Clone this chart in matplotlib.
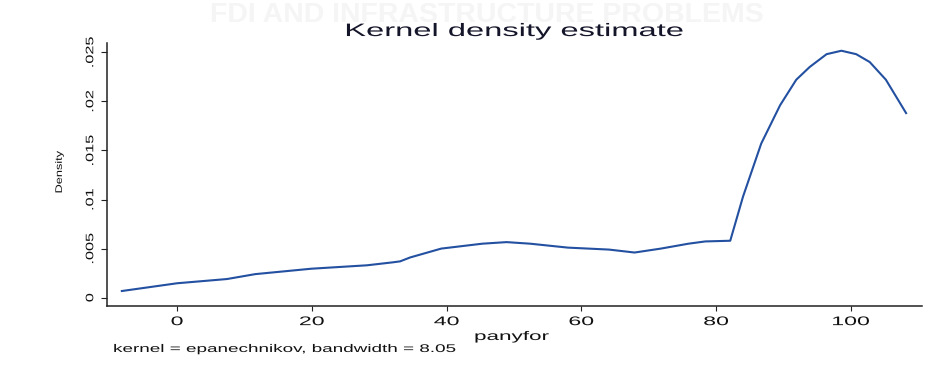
import matplotlib
matplotlib.use("Agg")
import matplotlib.pyplot as plt
from matplotlib.patheffects import AbstractPathEffect
from matplotlib.transforms import Affine2D

# Kernel density estimate of panyfor (epanechnikov kernel, bw = 8.05)
panyfor = [-8.2, 0.0, 7.4, 11.6, 19.9, 28.2, 32.0, 33.1, 34.6, 39.2, 45.3,
           48.9, 52.4, 58.0, 64.1, 67.9, 71.8, 75.9, 78.4, 82.1, 84.0, 86.7,
           89.5, 91.9, 93.9, 96.4, 98.6, 100.8, 102.8, 105.2, 108.2]
density = [0.00068, 0.00147, 0.0019, 0.0024, 0.00295, 0.0033, 0.0036, 0.0037,
           0.0041, 0.0050, 0.0055, 0.00566, 0.0055, 0.0051, 0.0049, 0.0046,
           0.0050, 0.0055, 0.00573, 0.0058, 0.0103, 0.0157, 0.0196, 0.0222,
           0.0235, 0.0248, 0.02515, 0.0248, 0.0240, 0.0222, 0.0188]

x_ticks = [0, 20, 40, 60, 80, 100]
x_tick_labels = ["0", "20", "40", "60", "80", "100"]
y_ticks = [0, 0.005, 0.01, 0.015, 0.02, 0.025]
y_tick_labels = ["0", ".005", ".01", ".015", ".02", ".025"]

title = "Kernel density estimate"
x_label = "panyfor"
y_label = "Density"
note = "kernel = epanechnikov, bandwidth = 8.05"
header = "FDI AND INFRASTRUCTURE PROBLEMS"


class Widen(AbstractPathEffect):
    """Stretch glyphs along the reading direction of a text."""

    def __init__(self, factor, anchor="center"):
        super().__init__()
        self.factor = factor
        self.anchor = anchor

    def draw_path(self, renderer, gc, tpath, affine, rgbFace=None):
        ext = tpath.get_extents()
        if self.anchor == "left":
            px = 0.0
        elif self.anchor == "right":
            px = ext.x1
        else:
            px = 0.5 * (ext.x0 + ext.x1)
        widen = Affine2D().translate(-px, 0).scale(self.factor, 1).translate(px, 0)
        renderer.draw_path(gc, tpath, widen + affine, rgbFace)


plt.rcParams["font.family"] = ["Liberation Sans", "DejaVu Sans"]

fig = plt.figure(figsize=(9.38, 3.68), dpi=100)
fig.patch.set_facecolor("white")

# very faint page header showing through behind the chart
fig.text(0.519, 0.958, header, ha="center", va="center", fontsize=20.5,
         fontweight="bold", color="#f5f5f5", zorder=0)

ax = fig.add_axes([0.1141, 0.1685, 0.8684, 0.7147])
ax.set_facecolor("none")

ax.plot(panyfor, density, color="#2350a0", lw=1.5, solid_joinstyle="round")

ax.set_xlim(-10.4, 110.5)
ax.set_ylim(-0.000845, 0.02594)

for side in ("top", "right"):
    ax.spines[side].set_visible(False)
for side in ("left", "bottom"):
    ax.spines[side].set_color("#222222")
    ax.spines[side].set_linewidth(1.1)

ax.set_xticks(x_ticks, x_tick_labels)
ax.set_yticks(y_ticks, y_tick_labels)
ax.tick_params(axis="x", direction="out", length=3.8, width=0.8, pad=3.5,
               labelsize=9, colors="#222222", labelcolor="#111111")
ax.tick_params(axis="y", direction="out", length=4.5, width=0.8, pad=4.0,
               labelsize=7.8, colors="#222222", labelcolor="#111111",
               labelrotation=90)
for lbl in ax.get_yticklabels():
    lbl.set_verticalalignment("center")
    lbl.set_path_effects([Widen(1.5)])
for lbl in ax.get_xticklabels():
    lbl.set_path_effects([Widen(1.85)])

ax.set_title(title, fontsize=13, color="#15152a", pad=5,
             path_effects=[Widen(1.81)])

xl = ax.set_xlabel(x_label, fontsize=9, color="#111111", va="top",
                   path_effects=[Widen(1.8)])
ax.xaxis.set_label_coords(0.497, -0.095)

yl = ax.set_ylabel(y_label, fontsize=6.8, color="#111111",
                   path_effects=[Widen(1.35)])
ax.yaxis.set_label_coords(-0.053, 0.51)

fig.text(0.1205, 0.0435, note, ha="left", va="baseline", fontsize=8,
         color="#111111", path_effects=[Widen(1.7, anchor="left")])

fig.savefig("out.png", dpi=100, facecolor="white")
